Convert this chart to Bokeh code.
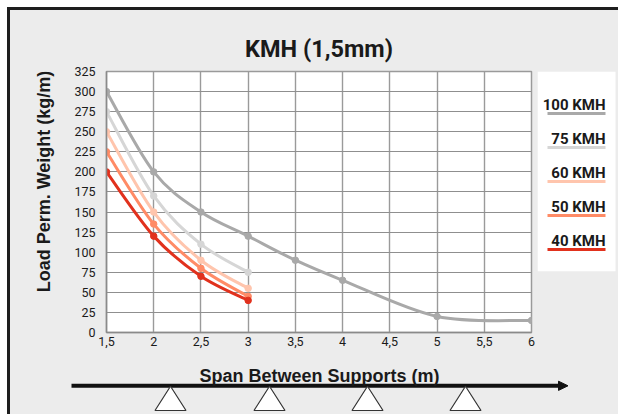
import math
from bokeh.plotting import figure
from bokeh.layouts import column, row
from bokeh.models import Label, FixedTicker, CustomJSTickFormatter, Range1d
from bokeh.embed import file_html
from bokeh.resources import INLINE

# ---------------- data ----------------
title_text = "KMH (1,5mm)"
x_label = "Span Between Supports (m)"
y_label = "Load Perm. Weight (kg/m)"

x_ticks = [1.5, 2, 2.5, 3, 3.5, 4, 4.5, 5, 5.5, 6]
y_ticks = [0, 25, 50, 75, 100, 125, 150, 175, 200, 225, 250, 275, 300, 325]

span_long = [1.5, 2, 2.5, 3, 3.5, 4, 5, 6]
span_short = [1.5, 2, 2.5, 3]

kmh100 = [300, 200, 150, 120, 90, 65, 20, 15]
kmh75 = [275, 170, 110, 75]
kmh60 = [250, 150, 90, 55]
kmh50 = [225, 135, 80, 45]
kmh40 = [200, 120, 70, 40]

series_names = ["100 KMH", "75 KMH", "60 KMH", "50 KMH", "40 KMH"]
series_x = [span_long, span_short, span_short, span_short, span_short]
series_y = [kmh100, kmh75, kmh60, kmh50, kmh40]
series_colors = ["#a9a9a9", "#d6d6d6", "#ffc5ad", "#ff8b66", "#e1311d"]

# ---------------- styling constants ----------------
BG = "#ececec"
DARK = "#1e1e1e"
TXT = "#1a1a1a"
COND = "Roboto"
SANS = "Liberation Sans"

X0, Y0 = 10, 10          # content origin (after 7px margin + 3px frame line)
XR = 618
FR_T, FR_B = 71, 332     # chart frame top / bottom
FR_L, FR_R = 106, 531    # chart frame left / right
MID_B = 352              # bottom of upper row
YB = 414
LEFT_R = 60
MAIN_R = 537


def deco(x0, x1, y0, y1, frame_y=None):
    """decorative panel whose data coordinates are page pixels"""
    w, h = x1 - x0, y1 - y0
    if frame_y is None:
        fy0, fy1, bt, bb = y0, y1, 0, 0
    else:
        fy0, fy1 = frame_y
        bt, bb = fy0 - y0, y1 - fy1
    f = figure(width=w, height=h, output_backend="svg", toolbar_location=None,
               x_range=Range1d(x0, x1), y_range=Range1d(fy1, fy0),
               x_axis_location=None, y_axis_location=None,
               min_border_left=0, min_border_right=0,
               min_border_top=bt, min_border_bottom=bb)
    f.grid.visible = False
    f.outline_line_color = None
    f.background_fill_color = BG
    f.border_fill_color = BG
    return f


# ---------------- y label panel ----------------
left = deco(X0, LEFT_R, Y0, MID_B, frame_y=(FR_T, FR_B))
left.add_layout(Label(x=43.3, y=181, text=y_label, text_align="center",
                      text_baseline="alphabetic", angle=math.pi / 2,
                      text_font=SANS, text_font_style="bold", text_font_size="18px",
                      text_color=TXT))

# ---------------- main chart ----------------
p = figure(width=MAIN_R - LEFT_R, height=MID_B - Y0, output_backend="svg",
           toolbar_location=None, x_range=Range1d(1.5, 6), y_range=Range1d(0, 325),
           min_border_left=FR_L - LEFT_R, min_border_right=MAIN_R - FR_R,
           min_border_top=FR_T - Y0, min_border_bottom=MID_B - FR_B,
           title=title_text)
p.title.align = "center"
p.title.text_font = COND
p.title.text_font_style = "bold"
p.title.text_font_size = "23.5px"
p.title.text_color = TXT
p.title.standoff = 18
p.border_fill_color = BG
p.background_fill_color = "#ffffff"
p.outline_line_color = "#9a9a9a"
p.outline_line_width = 1.5

p.xaxis.ticker = FixedTicker(ticks=x_ticks)
p.yaxis.ticker = FixedTicker(ticks=y_ticks)
p.xaxis.formatter = CustomJSTickFormatter(code="return tick.toString().replace('.', ',');")
for ax in (p.xaxis, p.yaxis):
    ax.major_tick_line_color = None
    ax.minor_tick_line_color = None
    ax.axis_line_color = "#8a8a8a"
    ax.axis_line_width = 1.5
    ax.major_label_text_font = COND
    ax.major_label_text_font_size = "12.5px"
    ax.major_label_text_color = TXT
p.xaxis.major_label_standoff = -2
p.yaxis.major_label_standoff = 5

p.xgrid.grid_line_color = "#9a9a9a"
p.xgrid.grid_line_width = 1.4
p.ygrid.grid_line_color = "#8f8f8f"
p.ygrid.grid_line_width = 1.1


def bezier_parts(xs, ys):
    n = len(xs)
    out = {k: [] for k in ("x0", "y0", "x1", "y1", "cx0", "cy0", "cx1", "cy1")}
    for i in range(n - 1):
        xp, yp = (xs[i - 1], ys[i - 1]) if i > 0 else (xs[i], ys[i])
        xn, yn = (xs[i + 2], ys[i + 2]) if i + 2 < n else (xs[i + 1], ys[i + 1])
        out["x0"].append(xs[i]); out["y0"].append(ys[i])
        out["x1"].append(xs[i + 1]); out["y1"].append(ys[i + 1])
        out["cx0"].append(xs[i] + (xs[i + 1] - xp) / 6.0)
        out["cy0"].append(ys[i] + (ys[i + 1] - yp) / 6.0)
        out["cx1"].append(xs[i + 1] - (xn - xs[i]) / 6.0)
        out["cy1"].append(ys[i + 1] - (yn - ys[i]) / 6.0)
    return out


for xs, ys, col in zip(series_x, series_y, series_colors):
    b = bezier_parts(xs, ys)
    p.bezier(line_color=col, line_width=3, line_cap="round", **b)
    p.scatter(xs, ys, size=6.5, fill_color=col, line_color=col)

# ---------------- legend panel ----------------
leg = deco(MAIN_R, XR, Y0, MID_B, frame_y=(FR_T, FR_B))
leg.quad(left=[537], right=[615], top=[FR_T], bottom=[270.7],
         fill_color="#ffffff", line_color=None)
for i, (name, col) in enumerate(zip(series_names, series_colors)):
    base = 104 + 34 * i
    leg.add_layout(Label(x=605, y=base, text=name, text_align="right",
                         text_baseline="alphabetic", text_font=COND,
                         text_font_style="bold", text_font_size="15px", text_color=TXT))
    ly = base + 9
    leg.quad(left=[547], right=[605], top=[ly - 1.5], bottom=[ly + 1.5],
             fill_color=col, line_color=None)

# ---------------- bottom strip: x label and beam with supports ----------------
bot = deco(X0, XR, MID_B, YB)
bot.add_layout(Label(x=319, y=375, text=x_label, text_align="center",
                     text_baseline="alphabetic", text_font=SANS, text_font_style="bold",
                     text_font_size="18px", text_color=TXT))
bot.quad(left=[71], right=[560], top=[383.3], bottom=[387.3],
         fill_color="#111111", line_color=None)
bot.patch(x=[558, 567.5, 558], y=[380.7, 385.3, 389.9],
          fill_color="#111111", line_color="#111111", line_width=1)
supports_x = [170, 269, 367, 465]
bot.patches(xs=[[c, c - 15.5, c + 15.5] for c in supports_x],
            ys=[[385.7, 410, 410] for _ in supports_x],
            fill_color="#ffffff", line_color="#333333", line_width=1.2)

layout = column(row(left, p, leg), bot,
                styles={"margin-left": "7px", "margin-top": "7px",
                        "border-left": "3px solid " + DARK,
                        "border-top": "3px solid " + DARK,
                        "background-color": BG})
open("out.html", "w").write(file_html(layout, INLINE))
